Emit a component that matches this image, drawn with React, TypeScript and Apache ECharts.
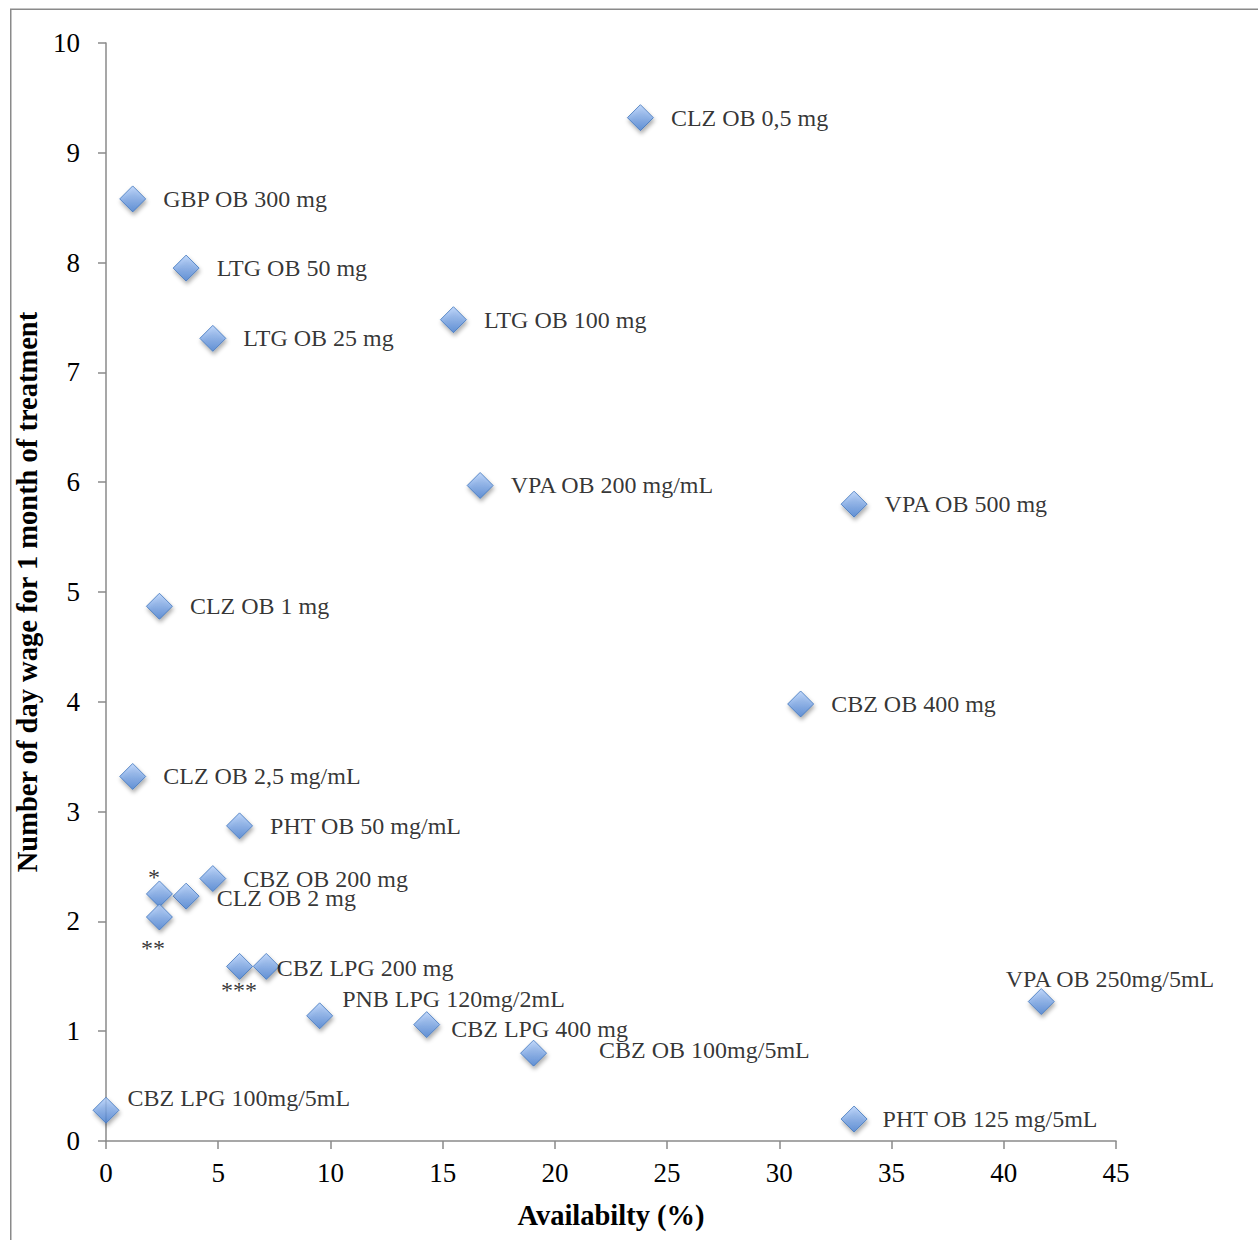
import React, { useEffect, useRef } from "react";
import * as echarts from "echarts";

const names = [
  "CLZ OB 0,5 mg", "GBP OB 300 mg", "LTG OB 50 mg", "LTG OB 25 mg", "LTG OB 100 mg",
  "VPA OB 200 mg/mL", "VPA OB 500 mg", "CLZ OB 1 mg", "CBZ OB 400 mg", "CLZ OB 2,5 mg/mL",
  "PHT OB 50 mg/mL", "CBZ OB 200 mg", "CLZ OB 2 mg", "*", "**", "***", "CBZ LPG 200 mg",
  "PNB LPG 120mg/2mL", "CBZ LPG 400 mg", "CBZ OB 100mg/5mL", "CBZ LPG 100mg/5mL",
  "PHT OB 125 mg/5mL", "VPA OB 250mg/5mL",
];
const availability = [
  23.81, 1.19, 3.57, 4.76, 15.48,
  16.67, 33.33, 2.38, 30.95, 1.19,
  5.95, 4.76, 3.57, 2.38, 2.38, 5.95, 7.14,
  9.52, 14.29, 19.05, 0,
  33.33, 41.67,
];
const dayWages = [
  9.32, 8.58, 7.95, 7.31, 7.48,
  5.97, 5.8, 4.87, 3.98, 3.32,
  2.87, 2.39, 2.23, 2.25, 2.04, 1.59, 1.59,
  1.14, 1.06, 0.8, 0.28,
  0.2, 1.27,
];
const xTicks = [0, 5, 10, 15, 20, 25, 30, 35, 40, 45];
const yTicks = [0, 1, 2, 3, 4, 5, 6, 7, 8, 9, 10];
const xTitle = "Availabilty (%)";
const yTitle = "Number of day wage for 1 month of treatment";

// label nudges relative to default "right" placement (style, not data)
const labelOffsets: Record<string, [number, number]> = {
  "CBZ LPG 200 mg": [-20, 2],
  "PNB LPG 120mg/2mL": [-8, -17],
  "CBZ LPG 400 mg": [-6, 4],
  "CBZ OB 100mg/5mL": [35, -3],
  "CBZ LPG 100mg/5mL": [-9, -12],
  "PHT OB 125 mg/5mL": [-2, 0],
  "VPA OB 250mg/5mL": [-66, -23],
  "CLZ OB 2 mg": [0, 2],
  "*": [-42, -17],
  "**": [-49, 31],
  "***": [-49, 24],
};

const SERIF = '"Liberation Serif", "Times New Roman", serif';

export default function App() {
  const ref = useRef<HTMLDivElement>(null);
  useEffect(() => {
    document.body.style.margin = "0";
    if (!ref.current) return;
    const chart = echarts.init(ref.current, undefined, { renderer: "svg" });
    const data = names.map((n, i) => {
      const off = labelOffsets[n] || [0, 0];
      return {
        name: n,
        value: [availability[i], dayWages[i]],
        label: { offset: off },
      };
    });
    chart.setOption({
      animation: false,
      backgroundColor: "#ffffff",
      grid: { left: 106, top: 43, right: 142, bottom: 99, containLabel: false, outerBoundsMode: "none" },
      xAxis: {
        type: "value",
        min: 0,
        max: 45,
        interval: 5,
        name: xTitle,
        nameLocation: "middle",
        nameGap: 60,
        nameTextStyle: { fontFamily: SERIF, fontSize: 28.5, fontWeight: "bold", color: "#000" },
        axisLine: { show: true, lineStyle: { color: "#8a8a8a", width: 1.5 } },
        axisTick: { show: true, length: 8, lineStyle: { color: "#8a8a8a", width: 1.5 } },
        axisLabel: { fontFamily: SERIF, fontSize: 27, color: "#000", margin: 18,
          formatter: (v: number) => (xTicks.includes(v) ? String(v) : "") },
        splitLine: { show: false },
      },
      yAxis: {
        type: "value",
        min: 0,
        max: 10,
        interval: 1,
        name: yTitle,
        nameLocation: "middle",
        nameGap: 56,
        nameRotate: 90,
        nameTextStyle: { fontFamily: SERIF, fontSize: 28.5, fontWeight: "bold", color: "#000" },
        axisLine: { show: true, lineStyle: { color: "#8a8a8a", width: 1.5 } },
        axisTick: { show: true, length: 8, lineStyle: { color: "#8a8a8a", width: 1.5 } },
        axisLabel: { fontFamily: SERIF, fontSize: 27, color: "#000", margin: 26,
          formatter: (v: number) => (yTicks.includes(v) ? String(v) : "") },
        splitLine: { show: false },
      },
      graphic: [
        { type: "line", shape: { x1: 10.75, y1: 9, x2: 10.75, y2: 1240 }, style: { stroke: "#8a8a8a", lineWidth: 1.5 } },
        { type: "line", shape: { x1: 10, y1: 9.25, x2: 1258, y2: 9.25 }, style: { stroke: "#8a8a8a", lineWidth: 1.5 } },
      ],
      series: [
        {
          type: "scatter",
          symbol: "diamond",
          symbolSize: 26,
          data,
          itemStyle: {
            color: {
              type: "linear", x: 0, y: 0, x2: 0, y2: 1,
              colorStops: [
                { offset: 0, color: "#b3cffa" },
                { offset: 1, color: "#4a82d4" },
              ],
            },
            borderColor: "#3f74bc",
            borderWidth: 1,
            shadowColor: "rgba(0,0,0,0.4)",
            shadowBlur: 4,
            shadowOffsetX: 1,
            shadowOffsetY: 3,
          },
          label: {
            show: true,
            position: "right",
            distance: 17,
            formatter: (p: any) => p.name,
            fontFamily: SERIF,
            fontSize: 24,
            color: "#000",
          },
          emphasis: { disabled: true },
        },
      ],
    });
    return () => chart.dispose();
  }, []);
  return <div ref={ref} style={{ width: 1258, height: 1240 }} />;
}
